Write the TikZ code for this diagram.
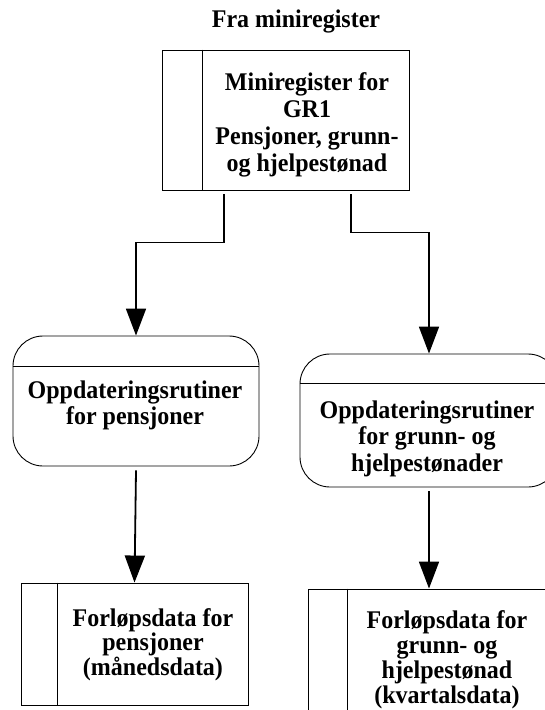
\documentclass[tikz,border=0pt]{standalone}
\usepackage{fontspec}
\setmainfont{Liberation Serif}
\usetikzlibrary{arrows.meta,calc}
\tikzset{
  store/.style={draw,line width=0.9pt,inner sep=0pt,rectangle},
  proc/.style={draw,line width=0.9pt,inner sep=0pt,rectangle,rounded corners=30pt},
  txt/.style={font=\fontsize{24}{#1}\selectfont\bfseries,align=center,inner sep=0pt,yscale=1.06},
  txt/.default=25,
  conn/.style={line width=1.8pt,-{Triangle[length=27pt,width=20pt]}},
  divider/.style={line width=0.9pt}
}
\begin{document}
\begin{tikzpicture}[x=1pt,y=-1pt]
\path[use as bounding box,clip] (0,0) rectangle (545,710);
% shapes
\node[store,minimum width=247pt,minimum height=140pt] (top) at (285.5,120) {};
\node[proc,minimum width=246pt,minimum height=130pt] (L) at (136,401) {};
\node[proc,minimum width=258pt,minimum height=133pt] (R) at (429,420.5) {};
\node[store,minimum width=227pt,minimum height=122pt] (BL) at (134.5,644) {};
\node[store,minimum width=242pt,minimum height=150pt] (BR) at (429,664) {};
% dividers
\draw[divider] ([xshift=41pt]top.north west) -- ([xshift=41pt]top.south west);
\draw[divider] ([yshift=-31pt]L.north west) -- ([yshift=-31pt]L.north east);
\draw[divider] ([yshift=-30pt]R.north west) -- ([yshift=-30pt]R.north east);
\draw[divider] ([xshift=37pt]BL.north west) -- ([xshift=37pt]BL.south west);
\draw[divider] ([xshift=40pt]BR.north west) -- ([xshift=40pt]BR.south west);
% texts
\node[txt,anchor=base] (title) at (296,27.3) {Fra miniregister};
\node[txt=25.5] (ttop) at (307,125.2) {Miniregister for\\GR1\\Pensjoner, grunn-\\og hjelpestønad};
\node[txt=24.5] (tL) at (135,405.3) {Oppdateringsrutiner\\for pensjoner};
\node[txt=25] (tR) at (427,438.5) {Oppdateringsrutiner\\for grunn- og\\hjelpestønader};
\node[txt=22.8] (tBL) at (153,644.7) {Forløpsdata for\\pensjoner\\(månedsdata)};
\node[txt=23.6] (tBR) at (447,659.5) {Forløpsdata for\\grunn- og\\hjelpestønad\\(kvartalsdata)};
% connectors
\draw[conn] ([xshift=-61.5pt,yshift=-4pt]top.south) -- ++(0,48) -| (L.north);
\draw[conn] ([xshift=65.5pt,yshift=-4pt]top.south) -- ++(0,38) -| (R.north);
\draw[conn] ([yshift=-4pt]L.south) -- (BL.north);
\draw[conn] ([yshift=-4pt]R.south) -- (BR.north);
\end{tikzpicture}
\end{document}
